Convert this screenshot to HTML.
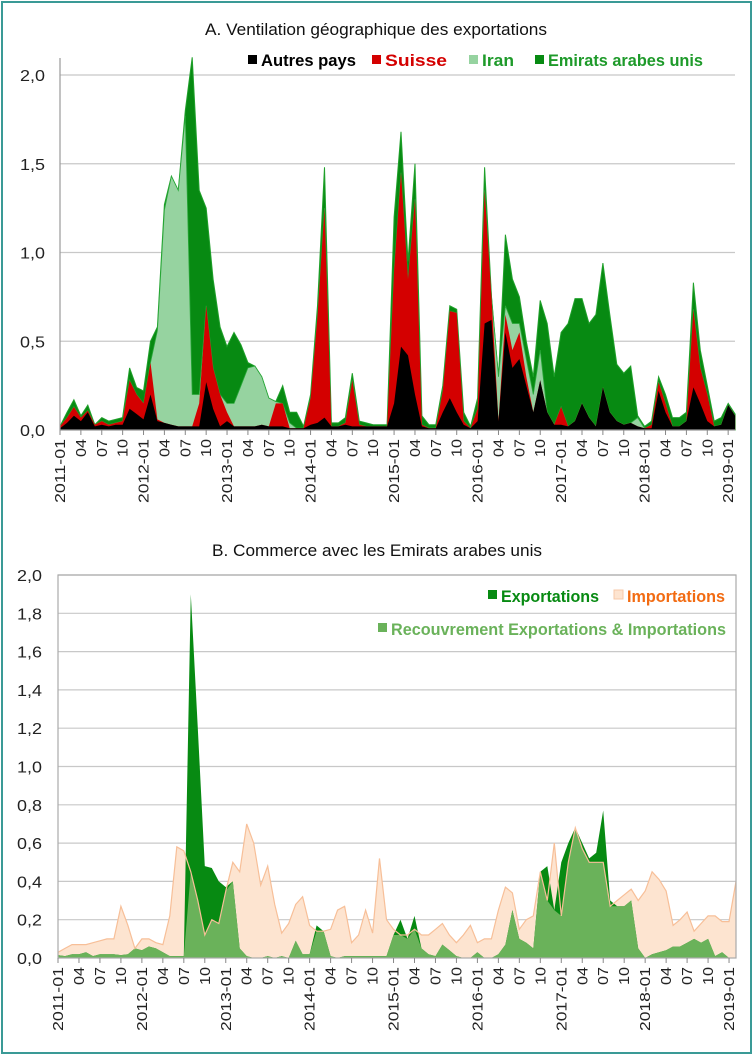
<!DOCTYPE html>
<html><head><meta charset="utf-8"><style>
html,body{margin:0;padding:0;background:#fff}
svg{display:block;font-family:"Liberation Sans",Arial,sans-serif}
</style></head><body>
<svg id="c" width="754" height="1056" viewBox="0 0 754 1056">
<rect x="2" y="2" width="749" height="1051" fill="#fff" stroke="#3a9a96" stroke-width="2"/>
<g id="A"></g>
<g id="B"></g>
</svg>
<script>
const months = ["2011-01","2011-04","2011-07","2011-10","2012-01","2012-04","2012-07","2012-10","2013-01","2013-04","2013-07","2013-10","2014-01","2014-04","2014-07","2014-10","2015-01","2015-04","2015-07","2015-10","2016-01","2016-04","2016-07","2016-10","2017-01","2017-04","2017-07","2017-10","2018-01","2018-04","2018-07","2018-10","2019-01"];
const tickLabelsA = ["0,0","0,5","1,0","1,5","2,0"];
const tickValuesA = [0,0.5,1,1.5,2];
const tickLabelsB = ["0,0","0,2","0,4","0,6","0,8","1,0","1,2","1,4","1,6","1,8","2,0"];
const tickValuesB = [0,0.2,0.4,0.6,0.8,1,1.2,1.4,1.6,1.8,2];
// Panel A series (monthly, 2011-01 .. 2019-02), stacked
const autres = [0.01,0.04,0.08,0.05,0.1,0.02,0.03,0.02,0.03,0.03,0.12,0.09,0.06,0.2,0.05,0.04,0.03,0.02,0.02,0.02,0.02,0.27,0.12,0.02,0.05,0.02,0.02,0.02,0.02,0.03,0.02,0.02,0.02,0.01,0.01,0.01,0.03,0.04,0.07,0.02,0.02,0.03,0.02,0.02,0.02,0.02,0.02,0.02,0.15,0.47,0.42,0.2,0.02,0.01,0.01,0.1,0.18,0.1,0.03,0.01,0.05,0.6,0.62,0.05,0.55,0.35,0.4,0.25,0.1,0.28,0.1,0.03,0.03,0.02,0.05,0.15,0.07,0.02,0.24,0.1,0.05,0.03,0.04,0.02,0.01,0.01,0.22,0.1,0.02,0.02,0.05,0.24,0.15,0.05,0.02,0.03,0.14,0.08];
const suisse = [0.01,0.03,0.05,0.02,0.01,0.01,0.02,0.01,0.01,0.02,0.16,0.11,0.09,0.18,0.01,0.0,0.0,0.0,0.0,0.0,0.13,0.43,0.23,0.18,0.05,0.0,0.0,0.0,0.0,0.0,0.0,0.13,0.13,0.0,0.0,0.0,0.15,0.6,1.18,0.0,0.0,0.01,0.26,0.01,0.0,0.0,0.0,0.0,0.75,0.98,0.43,1.1,0.01,0.0,0.0,0.12,0.49,0.56,0.02,0.0,0.07,0.75,0.13,0.0,0.1,0.1,0.15,0.05,0.0,0.0,0.0,0.0,0.1,0.0,0.0,0.0,0.0,0.0,0.0,0.0,0.0,0.0,0.0,0.0,0.0,0.02,0.05,0.05,0.0,0.0,0.0,0.44,0.2,0.15,0.0,0.0,0.0,0.0];
const iran = [0,0,0,0,0,0,0,0,0,0,0,0,0,0,0.5,1.2,1.4,1.33,1.75,0.18,0.05,0,0,0,0.05,0.13,0.23,0.33,0.34,0.27,0.16,0.01,0,0.03,0,0,0,0,0,0,0,0,0,0,0,0,0,0,0,0,0,0,0,0,0,0,0,0,0,0,0,0,0,0.25,0.05,0.15,0.05,0.1,0.1,0.17,0,0,0,0,0,0,0,0,0,0,0,0,0,0.05,0,0,0,0,0,0,0,0,0,0,0,0,0,0];
const emirats = [0.0,0.03,0.04,0.01,0.03,0.0,0.02,0.02,0.02,0.02,0.07,0.04,0.07,0.12,0.02,0.03,0.0,0.0,0.03,1.9,1.15,0.55,0.5,0.38,0.32,0.4,0.23,0.03,0.0,0.0,0.0,0.0,0.1,0.06,0.09,0.01,0.02,0.06,0.23,0.02,0.02,0.03,0.04,0.02,0.02,0.01,0.01,0.01,0.3,0.23,0.1,0.2,0.05,0.02,0.02,0.03,0.03,0.02,0.05,0.01,0.06,0.13,0.0,0.0,0.4,0.25,0.15,0.1,0.1,0.28,0.5,0.27,0.42,0.58,0.69,0.59,0.53,0.63,0.7,0.55,0.32,0.29,0.32,0.01,0.01,0.02,0.03,0.05,0.05,0.05,0.05,0.15,0.1,0.05,0.03,0.04,0.01,0.01];
// Panel B series
const importations = [0.03,0.05,0.07,0.07,0.07,0.08,0.09,0.1,0.1,0.27,0.17,0.05,0.1,0.1,0.08,0.07,0.22,0.58,0.56,0.45,0.3,0.12,0.2,0.18,0.35,0.5,0.45,0.7,0.6,0.38,0.48,0.28,0.13,0.18,0.28,0.32,0.17,0.14,0.14,0.15,0.25,0.27,0.08,0.12,0.25,0.13,0.52,0.2,0.15,0.12,0.12,0.15,0.12,0.12,0.15,0.18,0.12,0.08,0.12,0.17,0.08,0.1,0.1,0.25,0.37,0.34,0.15,0.2,0.22,0.45,0.3,0.6,0.22,0.5,0.68,0.57,0.5,0.5,0.5,0.27,0.3,0.33,0.36,0.3,0.35,0.45,0.41,0.35,0.17,0.2,0.24,0.14,0.18,0.22,0.22,0.19,0.19,0.4];
const exportations = [0.015,0.01,0.02,0.02,0.03,0.01,0.02,0.02,0.02,0.015,0.02,0.05,0.04,0.06,0.05,0.03,0.01,0.01,0.01,1.9,1.2,0.48,0.47,0.4,0.37,0.4,0.05,0.01,0.0,0.0,0.01,0.0,0.01,0.0,0.09,0.02,0.02,0.17,0.14,0.01,0.0,0.01,0.01,0.01,0.01,0.01,0.01,0.01,0.12,0.2,0.1,0.22,0.05,0.02,0.01,0.07,0.04,0.01,0.0,0.0,0.03,0.0,0.0,0.02,0.07,0.25,0.1,0.08,0.05,0.45,0.48,0.25,0.5,0.6,0.68,0.6,0.52,0.55,0.77,0.3,0.27,0.27,0.3,0.05,0.0,0.02,0.03,0.04,0.06,0.06,0.08,0.1,0.08,0.1,0.01,0.03,0.0,0.0];

const NS = "http://www.w3.org/2000/svg";
function mk(parent, tag, attrs, text){const e=document.createElementNS(NS,tag);for(const k in attrs)e.setAttribute(k,attrs[k]);if(text!==undefined)e.textContent=text;parent.appendChild(e);return e;}
function area(top,bot,xf,yf){let p="";for(let i=0;i<top.length;i++)p+=(i?"L":"M")+xf(i).toFixed(1)+","+yf(top[i]).toFixed(1);for(let i=bot.length-1;i>=0;i--)p+="L"+xf(i).toFixed(1)+","+yf(bot[i]).toFixed(1);return p+"Z";}
function line(v,xf,yf){let p="";for(let i=0;i<v.length;i++)p+=(i?"L":"M")+xf(i).toFixed(1)+","+yf(v[i]).toFixed(1);return p;}
function xTicks(g,x0,step,y0){
  for(let k=0;k<months.length;k++){
    const x=x0+k*3*step;
    const t=mk(g,"line",{x1:x,x2:x,y1:y0,y2:y0+5,stroke:"#888","stroke-width":1});
    
    
    const m=months[k];const yr=m.endsWith("-01");const lab=yr?m:m.slice(5);
    const tx=mk(g,"text",{x:0,y:0,transform:`translate(${x+5},${y0+9}) rotate(-90)`,"text-anchor":"end","font-size":"15",fill:"#222",textLength:yr?64:18,lengthAdjust:"spacingAndGlyphs"},lab);
    
    
  }
}
const n=autres.length;
// Panel A
(function(){
  const g=document.getElementById("A");
  const x0=60,step=6.96,y0=430,ppu=177.5;
  const xf=i=>x0+i*step, yf=v=>y0-v*ppu;
  for(let k=0;k<tickValuesA.length;k++){
    const y=yf(tickValuesA[k]);
    if(k>0){const gl=mk(g,"line",{x1:x0,x2:735,y1:y,y2:y,stroke:"#c8c8c8","stroke-width":1.2});
      
      }
    const t=mk(g,"text",{x:45,y:y+6,"text-anchor":"end","font-size":"16",fill:"#222",textLength:25,lengthAdjust:"spacingAndGlyphs"},tickLabelsA[k]);
    
    
  }
  const c1=autres, c2=autres.map((v,i)=>v+suisse[i]), c3=c2.map((v,i)=>v+iran[i]), c4=c3.map((v,i)=>v+emirats[i]);
  const zero=new Array(n).fill(0);
  const eau=mk(g,"path",{d:area(c4,zero,xf,yf),fill:"#078a12",stroke:"#1fa02a","stroke-width":1});
  
  
  const ir=mk(g,"path",{d:area(c3,zero,xf,yf),fill:"#96d3a0",stroke:"#2aa83a","stroke-width":0.8});
  
  
  const su=mk(g,"path",{d:area(c2,zero,xf,yf),fill:"#d40000"});
  
  
  const au=mk(g,"path",{d:area(c1,zero,xf,yf),fill:"#000"});
  
  
  const ax=mk(g,"line",{x1:x0,x2:x0,y1:58,y2:y0,stroke:"#999","stroke-width":1.2});
  
  
  const bx=mk(g,"line",{x1:x0,x2:735,y1:y0,y2:y0,stroke:"#999","stroke-width":1.2});
  
  
  xTicks(g,x0,step,y0);
  const ti=mk(g,"text",{x:376,y:35,"text-anchor":"middle","font-size":"17",fill:"#111",textLength:342,lengthAdjust:"spacingAndGlyphs"},"A. Ventilation géographique des exportations");
  
  
  const leg=[["Autres pays","#000","#000",248,95],["Suisse","#d40000","#d40000",372,62],["Iran","#96d3a0","#1e9a2a",469,32],["Emirats arabes unis","#078a12","#1e9a2a",535,155]];
  for(const [lbl,sw,tc,lx,w] of leg){
    const r=mk(g,"rect",{x:lx,y:55,width:9,height:9,fill:sw});
    
    
    const t=mk(g,"text",{x:lx+13,y:66,"font-size":"17","font-weight":"bold",fill:tc,textLength:w,lengthAdjust:"spacingAndGlyphs"},lbl);
    
    
  }
})();
// Panel B
(function(){
  const g=document.getElementById("B");
  const x0=58,step=6.99,y0=958,ppu=191.5;
  const xf=i=>x0+i*step, yf=v=>y0-v*ppu;
  for(let k=0;k<tickValuesB.length;k++){
    const y=yf(tickValuesB[k]);
    if(k>0){const gl=mk(g,"line",{x1:x0,x2:736,y1:y,y2:y,stroke:"#c8c8c8","stroke-width":1.2});
      
      }
    const t=mk(g,"text",{x:42,y:y+6,"text-anchor":"end","font-size":"16",fill:"#222",textLength:25,lengthAdjust:"spacingAndGlyphs"},tickLabelsB[k]);
    
    
  }
  const zero=new Array(n).fill(0);
  const ov=importations.map((v,i)=>Math.min(v,exportations[i]));
  const im=mk(g,"path",{d:area(importations,zero,xf,yf),fill:"#fde4d0"});
  
  
  const ex=mk(g,"path",{d:area(exportations,zero,xf,yf),fill:"#078a12"});
  
  
  const o=mk(g,"path",{d:area(ov,zero,xf,yf),fill:"#6ab25a"});
  
  
  const il=mk(g,"path",{d:line(importations,xf,yf),fill:"none",stroke:"#f7bf98","stroke-width":1.2});
  
  
  const box=mk(g,"rect",{x:x0,y:575,width:678,height:383,fill:"none",stroke:"#aaa","stroke-width":1.2});
  
  
  xTicks(g,x0,step,y0);
  const ti=mk(g,"text",{x:377,y:556,"text-anchor":"middle","font-size":"17",fill:"#111",textLength:330,lengthAdjust:"spacingAndGlyphs"},"B. Commerce avec les Emirats arabes unis");
  
  
  const leg=[["Exportations","#078a12","#078a12",488,601,98],["Importations","#fde4d0","#f26b12",614,601,98],["Recouvrement Exportations & Importations","#6ab25a","#6ab25a",378,634,335]];
  for(const [lbl,sw,tc,lx,ly,w] of leg){
    const r=mk(g,"rect",{x:lx,y:ly-11,width:9,height:9,fill:sw,stroke:sw==="#fde4d0"?"#f7c9a8":"none"});
    
    
    const t=mk(g,"text",{x:lx+13,y:ly+1,"font-size":"17","font-weight":"bold",fill:tc,textLength:w,lengthAdjust:"spacingAndGlyphs"},lbl);
    
    
  }
})();
</script>
</body></html>
